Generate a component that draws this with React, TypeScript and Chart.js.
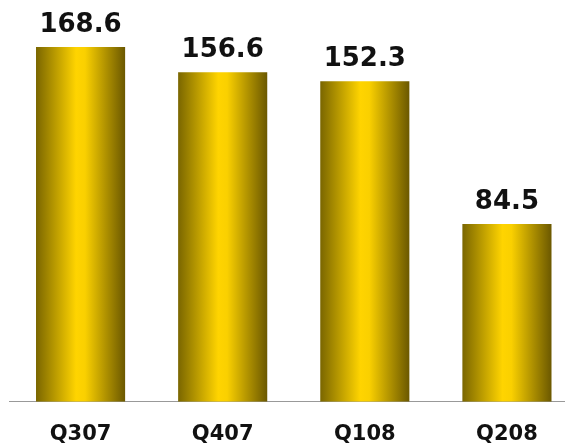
import React, { useEffect, useRef } from "react";
import { Chart, registerables } from "chart.js";

Chart.register(...registerables);

const categories = ["Q307", "Q407", "Q108", "Q208"];
const values = [168.6, 156.6, 152.3, 84.5];
const valueLabels = ["168.6", "156.6", "152.3", "84.5"];

const BAR_PCT = 0.627;

const valueLabelPlugin = {
  id: "valueLabels",
  afterDatasetsDraw(chart: any) {
    const ctx = chart.ctx;
    const meta = chart.getDatasetMeta(0);
    ctx.save();
    ctx.font = "bold 26px 'DejaVu Sans'";
    ctx.fillStyle = "#111111";
    ctx.textAlign = "center";
    ctx.textBaseline = "alphabetic";
    meta.data.forEach((el: any, i: number) => {
      ctx.fillText(valueLabels[i], el.x, el.y - 15);
    });
    ctx.restore();
  },
};

export default function App() {
  const ref = useRef<HTMLCanvasElement | null>(null);

  useEffect(() => {
    document.body.style.margin = "0";
    document.body.style.overflow = "hidden";
    const canvas = ref.current!;
    const chart = new Chart(canvas, {
      type: "bar",
      data: {
        labels: categories,
        datasets: [
          {
            data: values,
            backgroundColor: (c: any) => {
              const ch = c.chart;
              const area = ch.chartArea;
              const xs = ch.scales?.x;
              if (!area || !xs || c.dataIndex === undefined) return "#e0b800";
              const cx = xs.getPixelForValue(c.dataIndex);
              const w = ((area.right - area.left) / categories.length) * BAR_PCT;
              const g = ch.ctx.createLinearGradient(cx - w / 2, 0, cx + w / 2, 0);
              g.addColorStop(0, "#7a6600");
              g.addColorStop(0.45, "#ffd400");
              g.addColorStop(0.55, "#fad000");
              g.addColorStop(1, "#6b5800");
              return g;
            },
            borderWidth: 0,
            barPercentage: BAR_PCT,
            categoryPercentage: 1,
          },
        ],
      },
      options: {
        responsive: false,
        animation: false,
        layout: { padding: { left: 9.5, right: 0, top: 2, bottom: 2 } },
        plugins: {
          legend: { display: false },
          tooltip: { enabled: false },
        },
        scales: {
          x: {
            grid: { display: false, drawTicks: false },
            border: { display: true, color: "#999999", width: 1 },
            ticks: {
              color: "#111111",
              font: { family: "'DejaVu Sans'", size: 21, weight: "bold" },
              padding: 20,
            },
          },
          y: {
            display: false,
            min: 0,
            max: 190,
          },
        },
      },
      plugins: [valueLabelPlugin],
    });
    return () => chart.destroy();
  }, []);

  return (
    <div style={{ width: 565, height: 447, overflow: "hidden", position: "relative" }}>
      <canvas ref={ref} width={578} height={469} style={{ display: "block" }} />
    </div>
  );
}
